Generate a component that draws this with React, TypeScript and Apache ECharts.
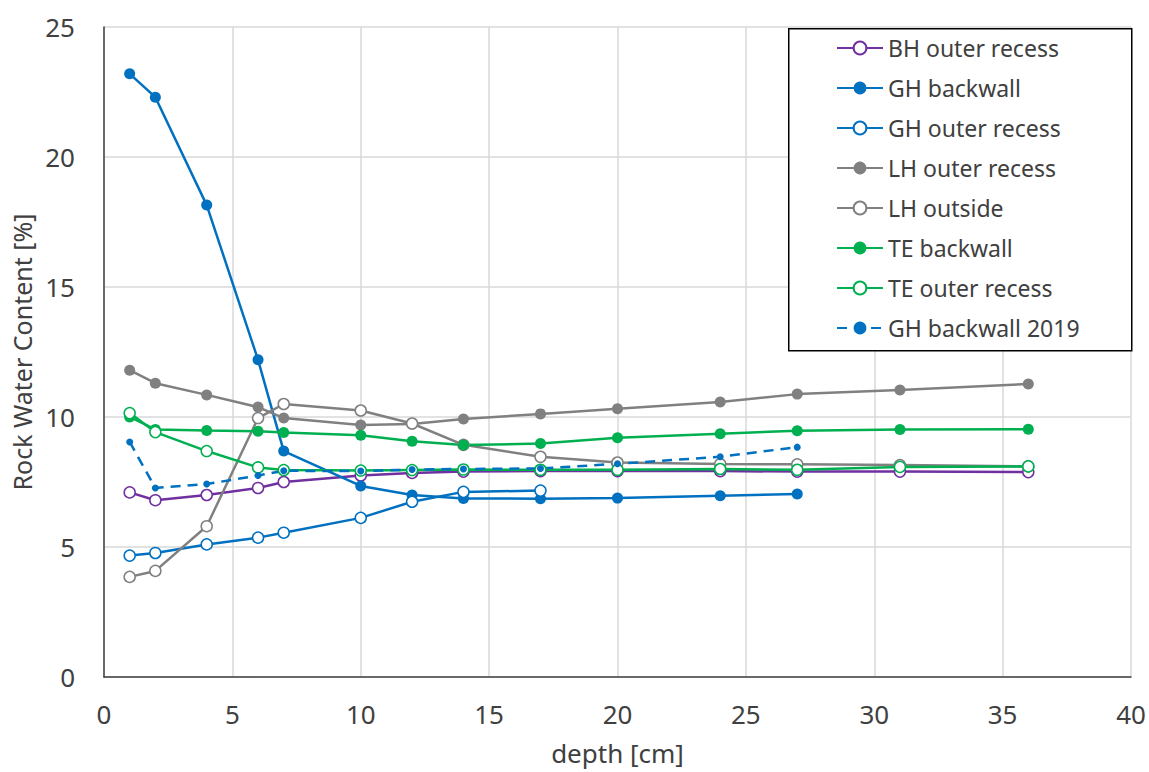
import React, { useEffect, useRef } from "react";
import * as echarts from "echarts";

const depths = [1, 2, 4, 6, 7, 10, 12, 14, 17, 20, 24, 27, 31, 36];
const depthsGH = [1, 2, 4, 6, 7, 10, 12, 14, 17, 20, 24, 27];
const depthsGHOuter = [1, 2, 4, 6, 7, 10, 12, 14, 17];

const bhOuterRecess = [7.1, 6.8, 7.0, 7.27, 7.5, 7.75, 7.85, 7.9, 7.92, 7.92, 7.92, 7.9, 7.9, 7.88];
const ghBackwall = [23.2, 22.3, 18.15, 12.2, 8.69, 7.35, 7.0, 6.87, 6.86, 6.88, 6.97, 7.04];
const ghOuterRecess = [4.67, 4.77, 5.1, 5.36, 5.55, 6.12, 6.74, 7.12, 7.17];
const lhOuterRecess = [11.8, 11.3, 10.85, 10.38, 9.96, 9.69, 9.73, 9.92, 10.12, 10.32, 10.58, 10.88, 11.04, 11.27];
const lhOutside = [3.85, 4.08, 5.8, 9.96, 10.5, 10.25, 9.75, 8.93, 8.47, 8.25, 8.19, 8.18, 8.15, 8.1];
const teBackwall = [10.0, 9.52, 9.48, 9.45, 9.4, 9.3, 9.07, 8.92, 8.98, 9.2, 9.36, 9.47, 9.52, 9.53];
const teOuterRecess = [10.15, 9.42, 8.69, 8.06, 7.96, 7.94, 7.96, 7.98, 7.97, 7.97, 8.0, 7.97, 8.08, 8.1];
const ghBackwall2019 = [9.04, 7.27, 7.42, 7.75, 7.93, 7.92, 7.98, 8.0, 8.02, 8.2, 8.47, 8.84];

const xTicks = { min: 0, max: 40, interval: 5 };
const yTicks = { min: 0, max: 25, interval: 5 };

const PURPLE = "#7030A0";
const BLUE = "#0070C0";
const GRAY = "#808080";
const GREEN = "#00B050";
const TEXT = "#404040";
const FONT = "Noto Sans";

function pairs(xs: number[], ys: number[]) {
  return ys.map((y, i) => [xs[i], y]);
}

function makeSeries(name: string, xs: number[], ys: number[], color: string, open: boolean, dashed = false) {
  return {
    name,
    type: "line",
    data: pairs(xs, ys),
    symbol: "circle",
    symbolSize: dashed ? 7 : 11,
    showSymbol: true,
    lineStyle: { color, width: 2.5, type: dashed ? [10, 7] : "solid" },
    itemStyle: open
      ? { color: "#ffffff", borderColor: color, borderWidth: 1.5 }
      : { color, borderWidth: 0 },
    emphasis: { disabled: true },
  };
}

export default function App() {
  const ref = useRef<HTMLDivElement>(null);
  useEffect(() => {
    if (!ref.current) return;
    const chart = echarts.init(ref.current, null, { renderer: "svg" });
    chart.setOption({
      animation: false,
      backgroundColor: "#ffffff",
      grid: { left: 104, right: 18, top: 27, bottom: 95, containLabel: false, outerBoundsMode: "none" },
      xAxis: {
        type: "value",
        min: xTicks.min,
        max: xTicks.max,
        interval: xTicks.interval,
        name: "depth [cm]",
        nameLocation: "middle",
        nameGap: 63,
        nameTextStyle: { fontFamily: FONT, fontSize: 26, color: TEXT },
        axisLine: { show: true, onZero: false, lineStyle: { color: "#404040", width: 1.5 } },
        axisTick: { show: false },
        axisLabel: { fontFamily: FONT, fontSize: 26, color: TEXT, margin: 24 },
        splitLine: { show: true, lineStyle: { color: "#d9d9d9", width: 1.5 } },
      },
      yAxis: {
        type: "value",
        min: yTicks.min,
        max: yTicks.max,
        interval: yTicks.interval,
        name: "Rock Water Content [%]",
        nameLocation: "middle",
        nameGap: 62,
        nameRotate: 90,
        nameTextStyle: { fontFamily: FONT, fontSize: 25, color: TEXT },
        axisLine: { show: true, onZero: false, lineStyle: { color: "#404040", width: 1.5 } },
        axisTick: { show: false },
        axisLabel: { fontFamily: FONT, fontSize: 26, color: TEXT, margin: 29 },
        splitLine: { show: true, lineStyle: { color: "#d9d9d9", width: 1.5 } },
      },
      legend: {
        orient: "vertical",
        left: 836,
        top: 36,
        padding: 0,
        itemWidth: 46,
        itemHeight: 16,
        itemGap: 16,
        textStyle: { fontFamily: FONT, fontSize: 23, color: TEXT, lineHeight: 24 },
        data: [
          "BH outer recess",
          "GH backwall",
          "GH outer recess",
          "LH outer recess",
          "LH outside",
          "TE backwall",
          "TE outer recess",
          "GH backwall 2019",
        ],
      },
      graphic: [
        {
          type: "rect",
          left: 788,
          top: 28,
          shape: { x: 0, y: 0, width: 343, height: 322 },
          style: { fill: "#ffffff", stroke: "#000000", lineWidth: 1.5 },
          z: 1,
        },
      ],
      series: [
        makeSeries("BH outer recess", depths, bhOuterRecess, PURPLE, true),
        makeSeries("GH backwall", depthsGH, ghBackwall, BLUE, false),
        makeSeries("GH outer recess", depthsGHOuter, ghOuterRecess, BLUE, true),
        makeSeries("LH outer recess", depths, lhOuterRecess, GRAY, false),
        makeSeries("LH outside", depths, lhOutside, GRAY, true),
        makeSeries("TE backwall", depths, teBackwall, GREEN, false),
        makeSeries("TE outer recess", depths, teOuterRecess, GREEN, true),
        makeSeries("GH backwall 2019", depthsGH, ghBackwall2019, BLUE, false, true),
      ],
    });
    return () => chart.dispose();
  }, []);
  return <div ref={ref} style={{ width: 1149, height: 772, position: "absolute", left: 0, top: 0 }} />;
}
